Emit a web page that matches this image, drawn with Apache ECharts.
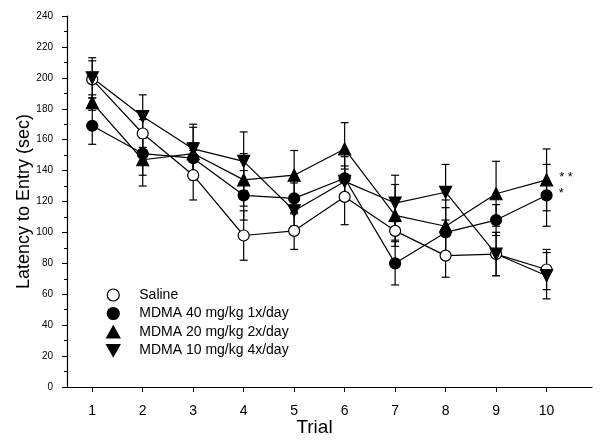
<!DOCTYPE html>
<html>
<head>
<meta charset="utf-8">
<script src="https://cdn.jsdelivr.net/npm/echarts@6/dist/echarts.min.js"></script>
<style>html,body{margin:0;padding:0;background:#fff;}#c{width:600px;height:442px;}</style>
</head>
<body>
<div id="c"></div>
<script>
const trials = [1, 2, 3, 4, 5, 6, 7, 8, 9, 10];
const yTicks = [0, 20, 40, 60, 80, 100, 120, 140, 160, 180, 200, 220, 240];
const seriesNames = ['Saline', 'MDMA 40 mg/kg 1x/day', 'MDMA 20 mg/kg 2x/day', 'MDMA 10 mg/kg 4x/day'];

const saline     = [199, 164, 137, 98, 101, 123, 101, 85, 86, 76];
const salineErr  = [12, 9, 16, 16, 12, 18, 6, 14, 14, 13];
const mdma40     = [169, 151, 148, 124, 122, 135, 80, 100, 108, 124];
const mdma40Err  = [12, 14, 10, 16, 10, 14, 14, 16, 10, 20];
const mdma20     = [184, 147, 151, 134, 137, 154, 111, 104, 125, 134];
const mdma20Err  = [5, 17, 17, 17, 16, 17, 20, 17, 21, 20];
const mdma10     = [200, 175, 154, 146, 114, 133, 119, 126, 86, 72];
const mdma10Err  = [13, 14, 16, 19, 10, 10, 18, 18, 14, 15];
const sigMarks   = {2: '* *', 1: '*'}; // series index -> label at last trial

const FONT = '"Liberation Sans", Arial, sans-serif';
const upTri = 'path://M5,0L10,9L0,9Z';
const downTri = 'path://M0,0L10,0L5,9Z';
const styles = [
  {symbol: 'circle', size: 11, fill: '#fff'},
  {symbol: 'circle', size: 11, fill: '#000'},
  {symbol: upTri, size: 12, fill: '#000'},
  {symbol: downTri, size: 12, fill: '#000'}
];
const means = [saline, mdma40, mdma20, mdma10];
const errs = [salineErr, mdma40Err, mdma20Err, mdma10Err];

const series = [];
means.forEach((m, si) => {
  series.push({
    type: 'custom',
    name: seriesNames[si] + ' err',
    z: 1,
    silent: true,
    data: trials.map((t, i) => [t, m[i] - errs[si][i], m[i] + errs[si][i]]),
    renderItem: function (params, api) {
      const x = api.value(0);
      const lo = api.coord([x, api.value(1)]);
      const hi = api.coord([x, api.value(2)]);
      const w = 4;
      const st = {stroke: '#000', lineWidth: 1.2};
      return {
        type: 'group',
        children: [
          {type: 'line', shape: {x1: lo[0], y1: lo[1], x2: hi[0], y2: hi[1]}, style: st},
          {type: 'line', shape: {x1: lo[0] - w, y1: lo[1], x2: lo[0] + w, y2: lo[1]}, style: st},
          {type: 'line', shape: {x1: hi[0] - w, y1: hi[1], x2: hi[0] + w, y2: hi[1]}, style: st}
        ]
      };
    }
  });
});
means.forEach((m, si) => {
  const s = styles[si];
  series.push({
    type: 'line',
    name: seriesNames[si],
    z: 3,
    symbol: s.symbol,
    symbolSize: s.size,
    showAllSymbol: true,
    lineStyle: {color: '#000', width: 1.2},
    itemStyle: {color: s.fill, borderColor: '#000', borderWidth: 1.2},
    data: trials.map((t, i) => {
      const d = {value: [t, m[i]]};
      if (i === trials.length - 1 && sigMarks[si]) {
        d.label = {show: true, position: 'right', distance: 6, formatter: sigMarks[si],
          color: '#000', fontSize: 13, fontFamily: FONT, offset: [0, -2]};
      }
      return d;
    })
  });
});

const chart = echarts.init(document.getElementById('c'), null, {renderer: 'canvas'});
chart.setOption({
  animation: false,
  backgroundColor: '#fff',
  grid: {left: 67, right: 8, top: 16, bottom: 55, containLabel: false, outerBoundsMode: 'none'},
  legend: {
    orient: 'vertical',
    left: 101,
    top: 283,
    itemWidth: 42,
    itemHeight: 12,
    itemGap: 4.5,
    selectedMode: false,
    textStyle: {fontFamily: FONT, fontSize: 14, color: '#000', lineHeight: 14},
    data: seriesNames.map((n, i) => ({
      name: n,
      icon: styles[i].symbol,
      itemStyle: {color: styles[i].fill, borderColor: '#000', borderWidth: 1.2}
    }))
  },
  xAxis: {
    type: 'value',
    min: 0.5,
    max: 10.9,
    name: 'Trial',
    nameLocation: 'middle',
    nameGap: 31,
    nameMoveOverlap: false,
    nameTextStyle: {fontFamily: FONT, fontSize: 19, color: '#000', padding: [0, 30, 0, 0]},
    splitLine: {show: false},
    axisLine: {show: true, lineStyle: {color: '#000', width: 1.2}},
    axisTick: {show: true, length: 5, inside: false, lineStyle: {color: '#000'}, customValues: trials},
    axisLabel: {fontFamily: FONT, fontSize: 14, color: '#000', margin: 17, customValues: trials}
  },
  yAxis: {
    type: 'value',
    min: 0,
    max: 240,
    interval: 20,
    name: 'Latency to Entry (sec)',
    nameLocation: 'middle',
    nameGap: 34,
    nameMoveOverlap: false,
    nameTextStyle: {fontFamily: FONT, fontSize: 18, color: '#000'},
    splitLine: {show: false},
    axisLine: {show: true, lineStyle: {color: '#000', width: 1.2}},
    axisTick: {show: true, length: 5, lineStyle: {color: '#000'}, customValues: yTicks},
    minorTick: {show: true, splitNumber: 2, length: 3, lineStyle: {color: '#000'}},
    axisLabel: {fontFamily: FONT, fontSize: 10, color: '#000', margin: 14, customValues: yTicks}
  },
  series: series
});
</script>
</body>
</html>
